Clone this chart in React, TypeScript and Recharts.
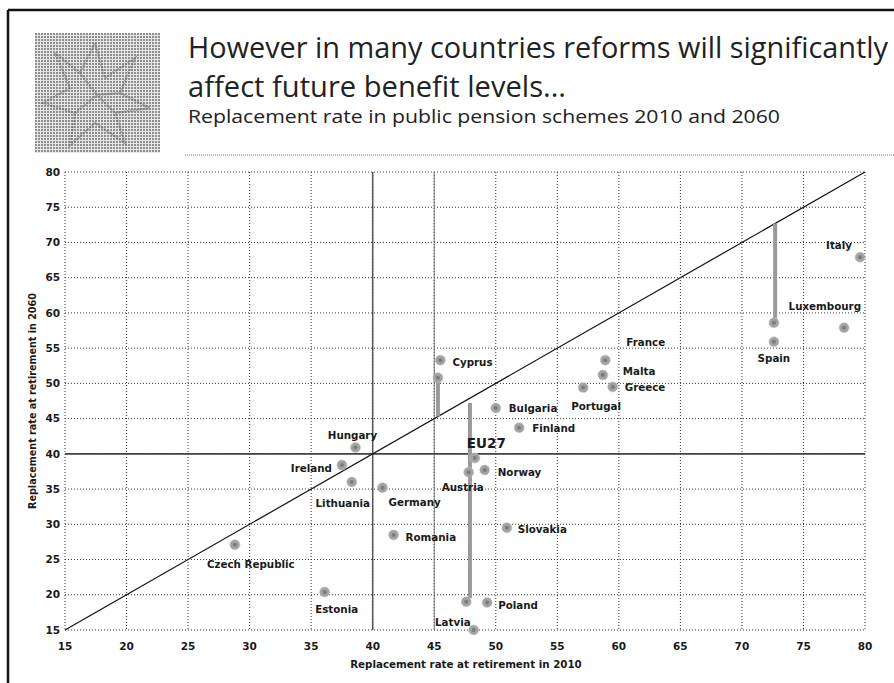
import React from "react";
import { CartesianGrid, ReferenceLine, Scatter, ScatterChart, XAxis, YAxis } from "recharts";

// axis ticks (both axes run 15..80)
const ticks = [15, 20, 25, 30, 35, 40, 45, 50, 55, 60, 65, 70, 75, 80];

// replacement rate 2010 (x) vs 2060 (y)
const countries = [
  { name: "Czech Republic", x: 28.8, y: 27.1 },
  { name: "Estonia", x: 36.1, y: 20.4 },
  { name: "Ireland", x: 37.5, y: 38.4 },
  { name: "Lithuania", x: 38.3, y: 36.0 },
  { name: "Hungary", x: 38.6, y: 40.9 },
  { name: "Germany", x: 40.8, y: 35.2 },
  { name: "Romania", x: 41.7, y: 28.5 },
  { name: "Cyprus", x: 45.5, y: 53.3 },
  { name: "Austria", x: 47.8, y: 37.4 },
  { name: "Latvia", x: 48.2, y: 15.0 },
  { name: "EU27", x: 48.3, y: 39.4 },
  { name: "Norway", x: 49.1, y: 37.7 },
  { name: "Poland", x: 49.3, y: 18.9 },
  { name: "Bulgaria", x: 50.0, y: 46.5 },
  { name: "Slovakia", x: 50.9, y: 29.5 },
  { name: "Finland", x: 51.9, y: 43.7 },
  { name: "Portugal", x: 57.1, y: 49.4 },
  { name: "Malta", x: 58.7, y: 51.2 },
  { name: "France", x: 58.9, y: 53.3 },
  { name: "Greece", x: 59.5, y: 49.5 },
  { name: "Spain", x: 72.6, y: 55.9 },
  { name: "Luxembourg", x: 78.3, y: 57.9 },
  { name: "Italy", x: 79.6, y: 67.9 },
];

// unlabeled markers at the arrow ends
const arrowEnds = [
  { name: "", x: 45.3, y: 50.8 },
  { name: "", x: 72.6, y: 58.6 },
  { name: "", x: 47.6, y: 19.0 },
];

// arrows from the diagonal to the 2060 level
const arrowCyprus = [
  { x: 45.3, y: 45.3 },
  { x: 45.3, y: 50.8 },
];
const arrowEU27 = [
  { x: 47.9, y: 47.2 },
  { x: 47.9, y: 19.5 },
];
const arrowSpain = [
  { x: 72.7, y: 72.7 },
  { x: 72.7, y: 59.2 },
];

const FONT = "'DejaVu Sans', Verdana, sans-serif";

// label offsets from the marker centre: dx, dy, anchor
const labelPlacement: Record<string, [number, number, "start" | "middle" | "end"]> = {
  "Czech Republic": [16, 19, "middle"],
  Estonia: [12, 17, "middle"],
  Ireland: [-10, 3, "end"],
  Lithuania: [-9, 21, "middle"],
  Hungary: [-3, -13, "middle"],
  Germany: [6, 14, "start"],
  Romania: [12, 2, "start"],
  Cyprus: [12, 2, "start"],
  Austria: [-6, 15, "middle"],
  Latvia: [-3, -8, "end"],
  EU27: [-8, -15, "start"],
  Norway: [13, 2, "start"],
  Poland: [11, 2, "start"],
  Bulgaria: [13, 0, "start"],
  Slovakia: [11, 1, "start"],
  Finland: [13, 0, "start"],
  Portugal: [13, 18, "middle"],
  Malta: [20, -4, "start"],
  France: [21, -18, "start"],
  Greece: [12, 0, "start"],
  Spain: [0, 16, "middle"],
  Luxembourg: [17, -22, "end"],
  Italy: [-8, -12, "end"],
};

function CountryDot(props: any) {
  const { cx, cy, payload } = props;
  const place = labelPlacement[payload?.name];
  const isEU = payload?.name === "EU27";
  return (
    <g>
      <circle cx={cx} cy={cy} r={5} fill="#a3a3a3" stroke="#c8c8c8" strokeWidth={1} strokeDasharray="1 1" />
      <circle cx={cx} cy={cy} r={2} fill="#7c7c7c" />
      {place && (
        <text
          x={cx + place[0]}
          y={cy + place[1]}
          textAnchor={place[2]}
          dominantBaseline="central"
          fontFamily={FONT}
          fontWeight="bold"
          fontSize={isEU ? 13.5 : 10.3}
          fill="#1a1a1a"
        >
          {payload.name}
        </text>
      )}
    </g>
  );
}

const noDot = () => <g />;

function Logo() {
  return (
    <svg width={125} height={120} style={{ position: "absolute", left: 35, top: 33 }}>
      <defs>
        <pattern id="halftone" width="3" height="3" patternUnits="userSpaceOnUse">
          <rect width="3" height="3" fill="#e6e6e6" />
          <rect width="2" height="2" fill="#8e8e8e" />
        </pattern>
      </defs>
      <rect width={125} height={120} fill="url(#halftone)" />
      <g stroke="#5e5e5e" strokeWidth={2.5} fill="none" opacity={0.45} strokeDasharray="2 1">
        <polyline points="20,20 45,40 60,10 70,45 100,25 85,60 115,75 80,80 90,110 60,90 35,112 40,80 8,70 35,55 20,20" />
        <polyline points="45,40 62,62 85,60" />
        <polyline points="40,80 62,62 80,80" />
      </g>
    </svg>
  );
}

export default function App() {
  return (
    <div style={{ position: "absolute", left: 0, top: 0, width: 894, height: 683, background: "#fff", overflow: "hidden" }}>
      <svg width={894} height={683} style={{ position: "absolute", left: 0, top: 0 }}>
        <line x1={8} y1={10} x2={894} y2={10} stroke="#111" strokeWidth={2.5} />
        <line x1={8} y1={10} x2={8} y2={683} stroke="#111" strokeWidth={2.5} />
        <text x={188} y={58} fontFamily="'Open Sans', sans-serif" fontSize={29} fill="#222" textLength={700} lengthAdjust="spacingAndGlyphs">
          However in many countries reforms will significantly
        </text>
        <text x={188} y={97} fontFamily="'Open Sans', sans-serif" fontSize={29} fill="#222" textLength={378} lengthAdjust="spacingAndGlyphs">
          affect future benefit levels...
        </text>
        <text x={188} y={123} fontFamily="'Open Sans', sans-serif" fontSize={18} fill="#222" textLength={592} lengthAdjust="spacingAndGlyphs">
          Replacement rate in public pension schemes 2010 and 2060
        </text>
        <line x1={185} y1={155} x2={894} y2={155} stroke="#777" strokeWidth={1} strokeDasharray="1 1" />
        <text x={466} y={668} textAnchor="middle" fontFamily={FONT} fontWeight="bold" fontSize={10.3} fill="#1a1a1a">
          Replacement rate at retirement in 2010
        </text>
        <text
          x={0}
          y={0}
          transform="translate(36,401) rotate(-90)"
          textAnchor="middle"
          fontFamily={FONT}
          fontWeight="bold"
          fontSize={9.6}
          fill="#1a1a1a"
        >
          Replacement rate at retirement in 2060
        </text>
      </svg>
      <Logo />
      <div style={{ position: "absolute", left: 0, top: 0 }}>
        <ScatterChart width={894} height={683} margin={{ top: 172, right: 29, bottom: 23, left: 25 }}>
          <CartesianGrid stroke="#333" strokeDasharray="1 2" horizontalValues={ticks} verticalValues={ticks} />
          <XAxis
            type="number"
            dataKey="x"
            domain={[15, 80]}
            ticks={ticks}
            height={30}
            axisLine={false}
            tickLine={false}
            tickSize={10}
            tickMargin={3}
            tick={{ fill: "#1a1a1a", fontSize: 10.5, fontWeight: "bold", fontFamily: FONT }}
            interval={0}
          />
          <YAxis
            type="number"
            dataKey="y"
            domain={[15, 80]}
            ticks={ticks}
            width={40}
            axisLine={false}
            tickLine={false}
            tickSize={5}
            tickMargin={0}
            tick={{ fill: "#1a1a1a", fontSize: 10.5, fontWeight: "bold", fontFamily: FONT }}
            interval={0}
          />
          <ReferenceLine x={40} stroke="#555" strokeWidth={1.5} />
          <ReferenceLine x={45} stroke="#777" strokeWidth={1} />
          <ReferenceLine y={40} stroke="#444" strokeWidth={1.8} />
          <ReferenceLine
            segment={[
              { x: 15, y: 15 },
              { x: 80, y: 80 },
            ]}
            stroke="#111"
            strokeWidth={1.2}
          />
          <Scatter data={arrowCyprus} line={{ stroke: "#9a9a9a", strokeWidth: 4 }} shape={noDot} isAnimationActive={false} />
          <Scatter data={arrowEU27} line={{ stroke: "#9a9a9a", strokeWidth: 4 }} shape={noDot} isAnimationActive={false} />
          <Scatter data={arrowSpain} line={{ stroke: "#9a9a9a", strokeWidth: 4 }} shape={noDot} isAnimationActive={false} />
          <Scatter data={arrowEnds} shape={CountryDot} isAnimationActive={false} />
          <Scatter data={countries} shape={CountryDot} isAnimationActive={false} />
        </ScatterChart>
      </div>
    </div>
  );
}
